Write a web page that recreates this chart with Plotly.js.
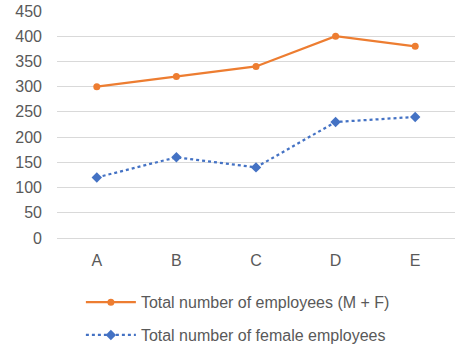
<!DOCTYPE html>
<html><head><meta charset="utf-8">
<script src="https://cdn.plot.ly/plotly-3.0.1.min.js"></script>
<style>html,body{margin:0;padding:0;background:#fff}#chart{width:475px;height:350px}</style>
</head><body><div id="chart"></div>
<script>
var categories = ["A", "B", "C", "D", "E"];
var totalEmployees = [300, 320, 340, 400, 380];
var femaleEmployees = [120, 160, 140, 230, 240];
var seriesNames = ["Total number of employees (M + F)", "Total number of female employees"];
var yTicks = [0, 50, 100, 150, 200, 250, 300, 350, 400, 450];

var traces = [
  {x: categories, y: totalEmployees, name: seriesNames[0], type: "scatter", mode: "lines+markers",
   legendgroup: "g1",
   line: {color: "#ED7D31", width: 2.25}, marker: {color: "#ED7D31", size: 7, symbol: "circle"}},
  {x: categories, y: femaleEmployees, name: seriesNames[1], type: "scatter", mode: "lines+markers",
   legendgroup: "g2",
   line: {color: "#4472C4", width: 2.25, dash: "dot"}, marker: {color: "#4472C4", size: 8, symbol: "diamond"}}
];
var layout = {
  width: 475, height: 350,
  margin: {l: 57, r: 20, t: 11, b: 112},
  paper_bgcolor: "#fff", plot_bgcolor: "#fff",
  font: {family: "Liberation Sans, Arial, sans-serif", color: "#595959", size: 16},
  xaxis: {type: "category", range: [-0.5, 4.5], showgrid: false, zeroline: false, showline: false,
          ticks: "", ticklabelstandoff: 11, tickfont: {size: 16, color: "#595959"}, automargin: false},
  yaxis: {range: [0, 450], tickvals: yTicks, showgrid: true, gridcolor: "#D9D9D9", gridwidth: 1,
          zeroline: true, zerolinecolor: "#D9D9D9", showline: false, ticks: "", ticklabelstandoff: 14,
          tickfont: {size: 16, color: "#595959"}, automargin: false},
  showlegend: true,
  legend: {orientation: "v", x: 0.06, xanchor: "left", yref: "container", y: 0.185, yanchor: "top",
           itemwidth: 50,
           traceorder: "grouped", tracegroupgap: 9, font: {size: 16, color: "#595959"},
           bgcolor: "rgba(0,0,0,0)"}
};
Plotly.newPlot("chart", traces, layout, {displayModeBar: false, staticPlot: true});
</script></body></html>
